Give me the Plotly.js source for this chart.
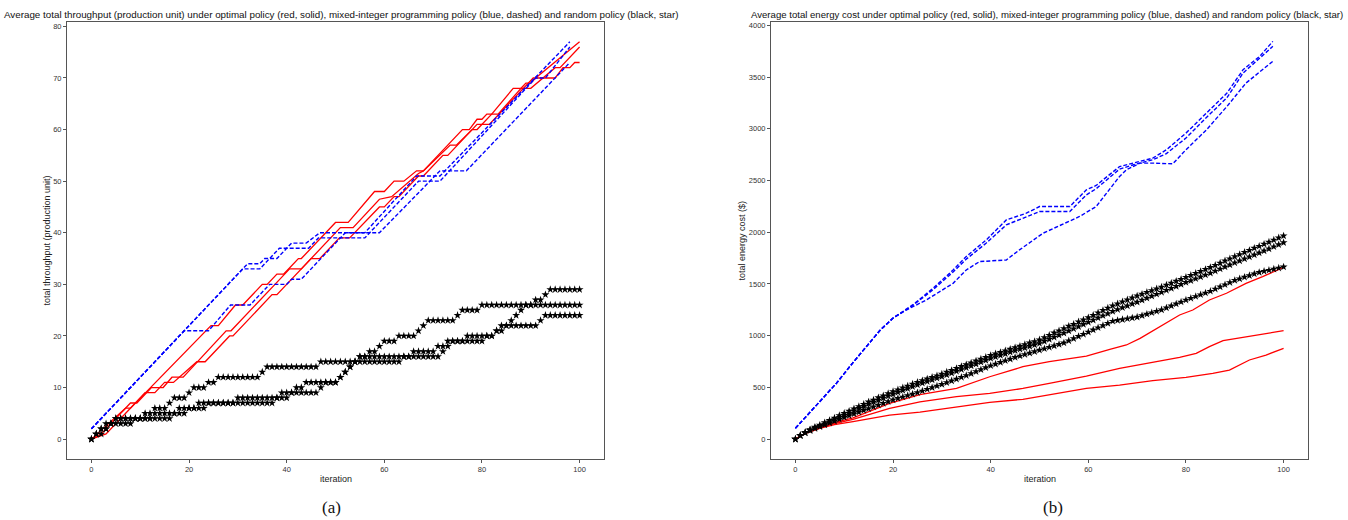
<!DOCTYPE html>
<html>
<head>
<meta charset="utf-8">
<script src="https://cdn.plot.ly/plotly-3.0.1.min.js"></script>
<style>html,body{margin:0;padding:0;background:#fff;}#chart{width:1348px;height:520px;}</style>
</head>
<body>
<div id="chart"></div>
<script>
// ---------- shared x (iterations) ----------
const iterations = [0,1,2,3,4,5,6,7,8,9,10,11,12,13,14,15,16,17,18,19,20,21,22,23,24,25,26,27,28,29,30,31,32,33,34,35,36,37,38,39,40,41,42,43,44,45,46,47,48,49,50,51,52,53,54,55,56,57,58,59,60,61,62,63,64,65,66,67,68,69,70,71,72,73,74,75,76,77,78,79,80,81,82,83,84,85,86,87,88,89,90,91,92,93,94,95,96,97,98,99,100];

// ---------- (a) throughput ----------
const thrRed1X = [0,7,8,24.5,26,29.5,31,35,36,38,39.4,42.4,43,50,52.6,58,60,62,64,66.6,68,76,77.4,79,80,81,82,86.4,88,89,90,91,100];
const thrRed1Y = [0,6,6,22,22,26,26,30,30,32,32,35,35,42,42,48,48,50,50,52,52,60,60,62,62,63,63,68,68,69,69,70,77];
const thrRed2X = [0,2,8,9.3,12.3,14.7,16.5,18.8,27.6,28.6,37.6,38.6,40.6,43,51,53.6,59,61.5,67,68,73.5,74.8,78,79,82,83.3,88,90,95,96,100];
const thrRed2Y = [0,1,7,7,10,10,12,12,21,21,30,31,33,33,41,41,46.5,47,51.5,52,57,57,60,60,63,63,68,68,72,72,76];
const thrRed3X = [0,3,11,13,15,16.8,21.6,23.3,28.3,29,37,38,45,46.8,50.8,52.9,59,60,62,63,67,68,72,73,79,81.5,86.5,90.5,95,96.6,98,99,100];
const thrRed3Y = [0,1,9,9,11,11,15,15,20,20,28,28,35,35,39,39,45,45,47,47,51,51,55,55,61,61,66,70,70,72,72,73,73];

const thrBlue1X = [0,19,32,34.5,35.5,38,41,44,46.8,56,66.6,71.4,98];
const thrBlue1Y = [2,21,34,34,35,35,38,38,40,40,51,51,77];
const thrBlue2X = [0,19,31,34.5,38.5,44.5,46.5,56,67,71.4,91,93,98];
const thrBlue2Y = [2,21,33,33,37,37,39,39,50,50,70,70,76];
const thrBlue3X = [0,19,24,28.5,32.5,36.5,40,41,43,52,59,71.4,76.8,98];
const thrBlue3Y = [2,21,21,26,26,30,30,31,31,40,40,52,52,73];

const thrRandom1 = [0,1,2,3,3,4,4,4,4,4,4,5,5,6,6,6,7,8,8,8,9,10,10,10,11,11,12,12,12,12,12,12,12,12,12,13,14,14,14,14,14,14,14,14,14,14,14,15,15,15,15,15,15,15,15,16,16,17,17,18,19,19,19,20,20,20,20,21,22,23,23,23,23,23,23,24,25,25,25,25,26,26,26,26,26,26,26,26,26,26,26,27,27,28,29,29,29,29,29,29,29];
const thrRandom2 = [0,1,2,2,3,4,4,4,4,4,4,4,4,5,5,5,5,5,6,6,6,6,6,6,7,7,7,7,7,7,8,8,8,8,8,8,8,8,8,8,8,9,9,9,9,9,9,10,11,11,11,12,13,14,15,16,16,16,16,16,16,16,16,16,16,16,17,17,17,17,17,18,18,19,19,19,19,20,20,20,20,20,20,21,22,22,23,24,25,26,26,26,26,26,26,26,26,26,26,26,26];
const thrRandom3 = [0,1,1,2,3,3,3,3,3,4,4,4,4,4,4,4,4,5,5,5,6,6,7,7,7,7,7,7,7,7,7,7,7,7,7,7,7,7,8,9,9,9,10,10,11,11,11,11,11,11,11,12,13,14,15,15,15,15,15,15,15,15,15,15,16,16,16,16,16,16,16,16,17,18,19,19,19,19,19,19,19,20,20,21,21,22,22,22,22,22,22,22,23,24,24,24,24,24,24,24,24];

// ---------- (b) energy cost ----------
const costRed1X = [0,2,5,8,11.8,19.3,25.5,33,39.8,46.6,52,59.6,64.4,67.8,70.6,75.3,78.7,81.4,84.8,88.3,92.3,95.7,100];
const costRed1Y = [0,55,110,160,205,345,430,490,603,700,750,803,868,910,974,1103,1200,1248,1345,1410,1506,1571,1660];
const costRed2X = [0,2,5,8,11.8,19.3,25.5,33,39.8,46.6,52,59.6,66.4,73.2,78.7,82.1,84.8,87.6,93.7,100];
const costRed2Y = [0,55,110,150,190,297,360,410,442,490,539,610,684,739,790,829,894,952,997,1048];
const costRed3X = [0,2,5,8,11.8,19.3,25.5,33,39.8,46.6,52,59.6,66.4,73.2,80,85.5,88.9,93,96.4,100];
const costRed3Y = [0,55,105,140,170,232,262,313,355,385,426,490,523,565,597,635,668,765,813,877];

const costBlue1X = [0,5,8.4,11.8,15.2,17.3,20,24,28.2,32.3,35,39.1,43.2,47.3,50,56.2,59.6,61.6,66.4,69.1,73.2,76,80,84.2,88.4,91.7,95.1,97.8];
const costBlue1Y = [105,370,540,740,930,1050,1170,1297,1458,1635,1765,1926,2119,2184,2248,2248,2410,2452,2635,2668,2716,2797,2958,3152,3345,3571,3700,3845];
const costBlue2X = [0,5,8.4,11.8,15.2,17.3,20,24,28.2,32.3,35,39.1,43.2,47.3,50,56.2,59.6,61.6,66.4,69.1,73.2,76,80,84.2,88.4,91.7,95.1,97.8];
const costBlue2Y = [105,370,540,740,930,1050,1170,1290,1445,1615,1740,1895,2071,2150,2200,2200,2361,2420,2610,2650,2700,2760,2910,3110,3300,3539,3680,3797];
const costBlue3X = [0,5,8.4,11.8,15.2,17.3,20,22.7,26.8,32.3,35,37.7,43.2,45.9,50.7,58.2,61.6,66.4,67.8,70.6,73.2,77.3,80,84.2,88.4,92.3,97.8];
const costBlue3Y = [105,370,540,740,930,1050,1170,1248,1345,1506,1635,1716,1732,1829,1990,2152,2248,2539,2603,2668,2668,2661,2797,2990,3216,3442,3652];

const costRandom1 = [0,38,66,92,116,135,160,181,204,228,250,271,294,316,337,360,379,401,420,441,460,478,497,513,533,550,566,582,598,613,630,649,665,684,703,720,737,756,774,791,810,826,839,855,870,885,899,915,930,944,960,983,1004,1027,1048,1070,1092,1111,1134,1153,1175,1198,1221,1245,1267,1290,1308,1328,1347,1366,1385,1402,1420,1436,1453,1470,1490,1508,1527,1546,1565,1584,1603,1622,1641,1660,1681,1702,1724,1744,1765,1785,1806,1825,1846,1865,1885,1905,1925,1946,1965];
const costRandom2 = [0,34,62,87,108,125,147,168,190,212,232,253,275,297,318,340,359,378,397,417,435,453,471,489,507,525,541,557,573,589,605,622,639,656,673,690,708,726,744,762,780,795,810,825,840,855,869,883,897,911,925,945,965,985,1005,1025,1046,1067,1088,1109,1130,1151,1172,1193,1214,1235,1253,1271,1289,1307,1325,1344,1363,1382,1401,1420,1439,1458,1477,1496,1515,1533,1551,1569,1587,1605,1625,1645,1665,1685,1705,1724,1743,1762,1781,1800,1820,1840,1860,1880,1900];
const costRandom3 = [0,33,60,83,103,120,138,156,174,192,210,227,244,261,278,295,312,329,346,363,380,394,408,422,436,450,466,482,498,514,530,547,564,581,598,615,634,653,672,691,710,726,742,758,774,790,804,818,832,846,860,874,888,902,916,930,951,972,993,1014,1035,1056,1077,1098,1119,1140,1148,1156,1164,1172,1180,1194,1208,1222,1236,1250,1269,1288,1307,1326,1345,1362,1379,1396,1413,1430,1451,1472,1493,1514,1535,1550,1566,1581,1597,1612,1623,1633,1644,1654,1665];

// ---------- text ----------
const titleA = "Average total throughput (production unit) under optimal policy (red, solid), mixed-integer programming policy (blue, dashed) and random policy (black, star)";
const titleB = "Average total energy cost under optimal policy (red, solid), mixed-integer programming policy (blue, dashed) and random policy (black, star)";
const yLabelA = "total throughput (production unit)";
const yLabelB = "total energy cost ($)";
const xLabel = "iteration";
const xTicks = [0,20,40,60,80,100];
const yTicksA = [0,10,20,30,40,50,60,70,80];
const yTicksB = [0,500,1000,1500,2000,2500,3000,3500,4000];

// ---------- styles ----------
const RED = '#ff0000', BLUE = '#0000ff', BLACK = '#000000';
const redLine = {color: RED, width: 1.3};
const blueLine = {color: BLUE, width: 1.4, dash: '4px,2px'};
const starMarker = {symbol: 'star', size: 6, color: BLACK, line: {width: 0}};

function lineTrace(x, y, line, xa, ya) {
  return {x: x, y: y, mode: 'lines', line: line, xaxis: xa, yaxis: ya, hoverinfo: 'skip'};
}
function starTrace(y, xa, ya) {
  return {x: iterations, y: y, mode: 'markers', marker: starMarker, xaxis: xa, yaxis: ya, hoverinfo: 'skip'};
}

const traces = [
  lineTrace(thrRed1X, thrRed1Y, redLine, 'x', 'y'),
  lineTrace(thrRed2X, thrRed2Y, redLine, 'x', 'y'),
  lineTrace(thrRed3X, thrRed3Y, redLine, 'x', 'y'),
  lineTrace(thrBlue1X, thrBlue1Y, blueLine, 'x', 'y'),
  lineTrace(thrBlue2X, thrBlue2Y, blueLine, 'x', 'y'),
  lineTrace(thrBlue3X, thrBlue3Y, blueLine, 'x', 'y'),
  starTrace(thrRandom1, 'x', 'y'),
  starTrace(thrRandom2, 'x', 'y'),
  starTrace(thrRandom3, 'x', 'y'),
  lineTrace(costRed1X, costRed1Y, redLine, 'x2', 'y2'),
  lineTrace(costRed2X, costRed2Y, redLine, 'x2', 'y2'),
  lineTrace(costRed3X, costRed3Y, redLine, 'x2', 'y2'),
  lineTrace(costBlue1X, costBlue1Y, blueLine, 'x2', 'y2'),
  lineTrace(costBlue2X, costBlue2Y, blueLine, 'x2', 'y2'),
  lineTrace(costBlue3X, costBlue3Y, blueLine, 'x2', 'y2'),
  starTrace(costRandom1, 'x2', 'y2'),
  starTrace(costRandom2, 'x2', 'y2'),
  starTrace(costRandom3, 'x2', 'y2')
];

const W = 1348, H = 520;
const FONT = 'Liberation Sans, Arial, sans-serif';
const tickFont = {family: FONT, size: 7.5, color: '#333'};
function axisBase(extra) {
  return Object.assign({
    showline: true, mirror: true, linecolor: '#555', linewidth: 1,
    ticks: 'outside', ticklen: 3, tickwidth: 1, tickcolor: '#555',
    showgrid: false, zeroline: false, tickfont: tickFont, fixedrange: true
  }, extra);
}
const yDom = [61 / H, 498 / H];

function ann(text, px, py, opts) {
  return Object.assign({
    text: text, x: px / W, y: 1 - py / H, xref: 'paper', yref: 'paper',
    xanchor: 'center', yanchor: 'middle', showarrow: false,
    font: {family: FONT, size: 9, color: '#222'}
  }, opts || {});
}
const titleFont = {family: FONT, size: 9.8, color: '#111'};
const titleFontB = {family: FONT, size: 9.6, color: '#111'};
const serifFont = {family: 'Liberation Serif, Times New Roman, serif', size: 17, color: '#111'};

const layout = {
  width: W, height: H,
  margin: {l: 0, r: 0, t: 0, b: 0},
  paper_bgcolor: '#ffffff', plot_bgcolor: '#ffffff',
  showlegend: false,
  xaxis: axisBase({domain: [67 / W, 604 / W], range: [-5, 105], tickvals: xTicks, anchor: 'y'}),
  yaxis: axisBase({domain: yDom, range: [-3.85, 80.85], tickvals: yTicksA, anchor: 'x'}),
  xaxis2: axisBase({domain: [771 / W, 1308 / W], range: [-5, 105], tickvals: xTicks, anchor: 'y2'}),
  yaxis2: axisBase({domain: yDom, range: [-192, 4032], tickvals: yTicksB, anchor: 'x2'}),
  annotations: [
    ann(titleA, 341, 14, {font: titleFont}),
    ann(titleB, 1345, 14, {font: titleFontB, xanchor: 'right'}),
    ann(xLabel, 335.5, 479),
    ann(xLabel, 1039.5, 479),
    ann(yLabelA, 46, 240.5, {textangle: -90}),
    ann(yLabelB, 741, 240.5, {textangle: -90}),
    ann('(a)', 331, 507, {font: serifFont}),
    ann('(b)', 1053, 507, {font: serifFont})
  ]
};

Plotly.newPlot('chart', traces, layout, {displayModeBar: false, staticPlot: true});
</script>
</body>
</html>
